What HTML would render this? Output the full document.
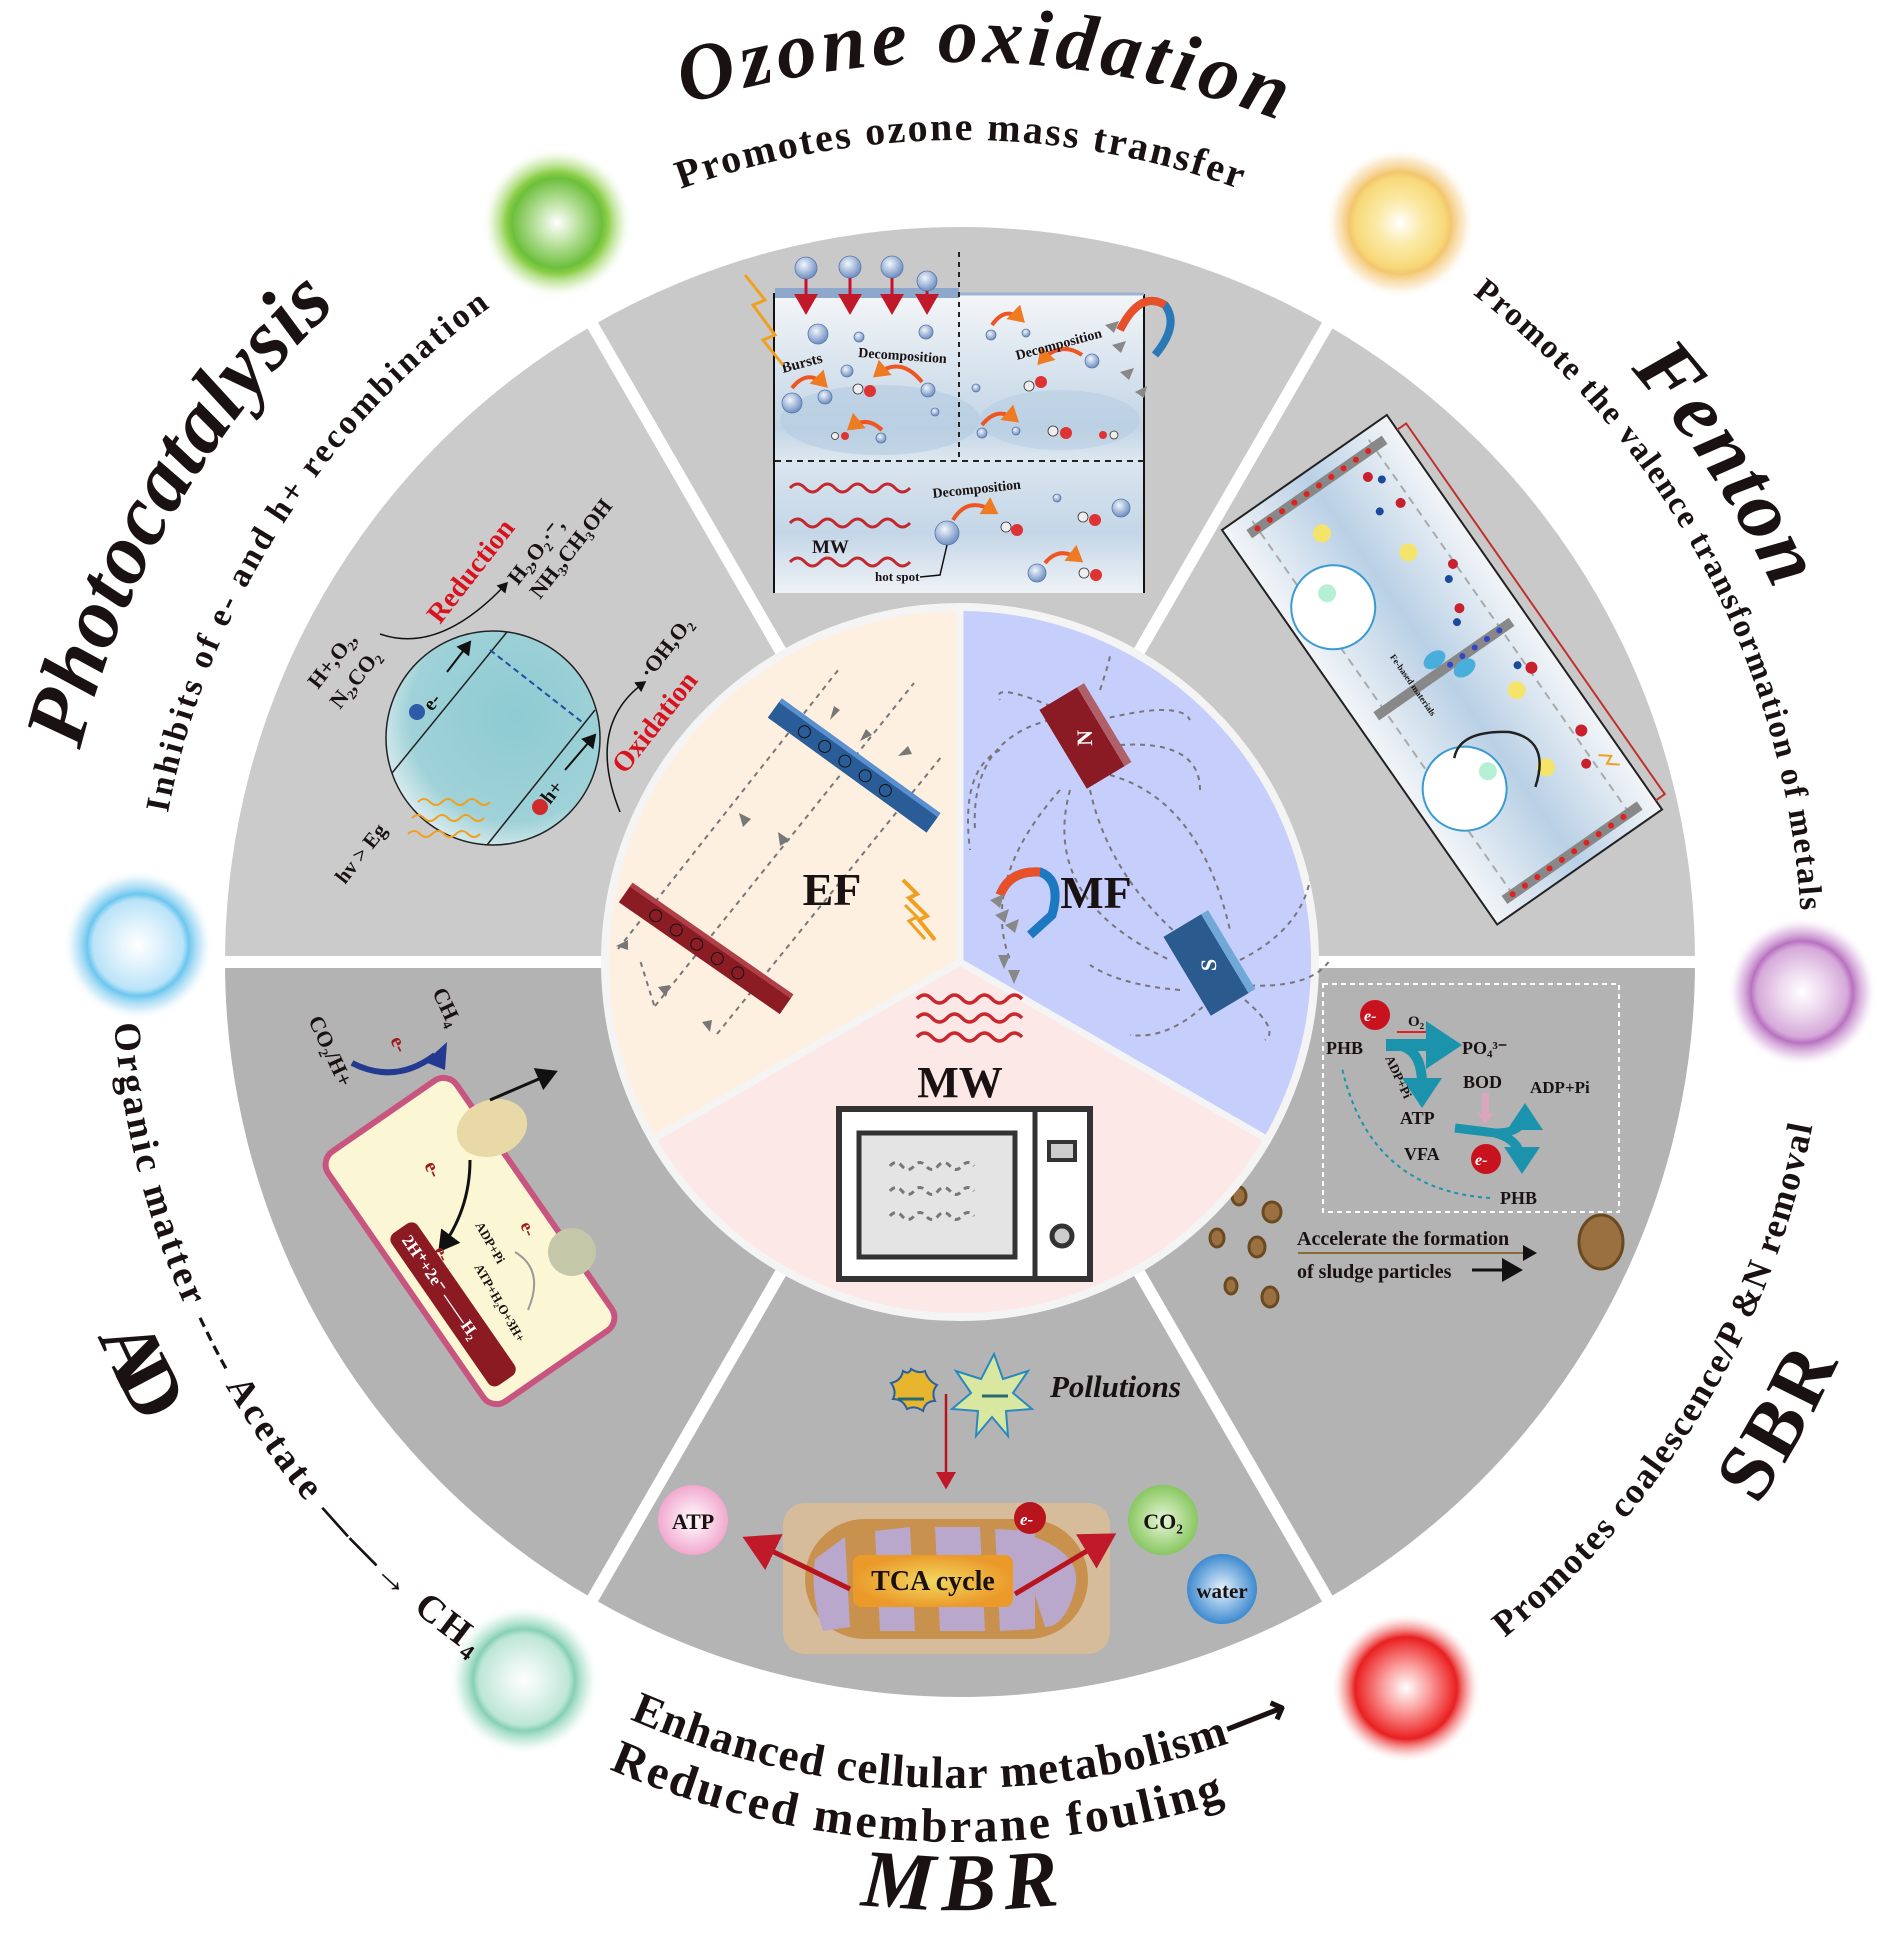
<!DOCTYPE html>
<html><head><meta charset="utf-8"><style>
html,body{margin:0;padding:0;background:#fff}
svg{display:block}
text{font-family:"Liberation Serif",serif;font-weight:bold;fill:#1a1212}
.s{font-family:"Liberation Serif",serif}
</style></head><body>
<svg width="1889" height="1950" viewBox="0 0 1889 1950" xmlns="http://www.w3.org/2000/svg">
<defs>
<radialGradient id="bub" cx="40%" cy="35%" r="65%"><stop offset="0" stop-color="#f2f6fc"/><stop offset="1" stop-color="#6e8fc2"/></radialGradient>
<radialGradient id="gG"><stop offset="0" stop-color="#fff"/><stop offset="0.3" stop-color="#b7e09a"/><stop offset="0.6" stop-color="#6cbf3c"/><stop offset="0.68" stop-color="#8ccf4a"/><stop offset="0.85" stop-color="#c9e8a8" stop-opacity="0.6"/><stop offset="1" stop-color="#fff" stop-opacity="0"/></radialGradient>
<radialGradient id="gY"><stop offset="0" stop-color="#fff"/><stop offset="0.3" stop-color="#fbeaa8"/><stop offset="0.6" stop-color="#f7d979"/><stop offset="0.68" stop-color="#f3c66e"/><stop offset="0.85" stop-color="#f7dcaa" stop-opacity="0.6"/><stop offset="1" stop-color="#fff" stop-opacity="0"/></radialGradient>
<radialGradient id="gB"><stop offset="0" stop-color="#fff"/><stop offset="0.3" stop-color="#dff2fc"/><stop offset="0.6" stop-color="#b9e3f8"/><stop offset="0.68" stop-color="#6cc6ef"/><stop offset="0.85" stop-color="#b4e0f6" stop-opacity="0.6"/><stop offset="1" stop-color="#fff" stop-opacity="0"/></radialGradient>
<radialGradient id="gP"><stop offset="0" stop-color="#fff"/><stop offset="0.3" stop-color="#eed8ef"/><stop offset="0.6" stop-color="#d5a9d9"/><stop offset="0.68" stop-color="#b872c0"/><stop offset="0.85" stop-color="#dcb6e0" stop-opacity="0.6"/><stop offset="1" stop-color="#fff" stop-opacity="0"/></radialGradient>
<radialGradient id="gT"><stop offset="0" stop-color="#fff"/><stop offset="0.3" stop-color="#e0f3ec"/><stop offset="0.6" stop-color="#bde6d7"/><stop offset="0.68" stop-color="#86d0b6"/><stop offset="0.85" stop-color="#c2e9da" stop-opacity="0.6"/><stop offset="1" stop-color="#fff" stop-opacity="0"/></radialGradient>
<radialGradient id="gR"><stop offset="0" stop-color="#fff"/><stop offset="0.3" stop-color="#fba0a0"/><stop offset="0.6" stop-color="#ef3a3a"/><stop offset="0.68" stop-color="#e82020"/><stop offset="0.85" stop-color="#f59a9a" stop-opacity="0.6"/><stop offset="1" stop-color="#fff" stop-opacity="0"/></radialGradient>
<linearGradient id="ozbg" x1="0" y1="0" x2="0" y2="1"><stop offset="0" stop-color="#f4f6f8"/><stop offset="0.45" stop-color="#c3d5e6"/><stop offset="0.55" stop-color="#dbe6ef"/><stop offset="0.8" stop-color="#c4d6e7"/><stop offset="1" stop-color="#eef2f6"/></linearGradient>
<linearGradient id="febg" x1="0" y1="0" x2="1" y2="0"><stop offset="0" stop-color="#f2f5f8"/><stop offset="0.5" stop-color="#b9d0e5"/><stop offset="1" stop-color="#f2f5f8"/></linearGradient>
<radialGradient id="pcg" cx="60%" cy="40%" r="70%"><stop offset="0" stop-color="#8ecbd2"/><stop offset="0.7" stop-color="#9fd2d8"/><stop offset="1" stop-color="#f0f4f6"/></radialGradient>
<radialGradient id="atp"><stop offset="0" stop-color="#fff"/><stop offset="1" stop-color="#f2a8cf"/></radialGradient>
<radialGradient id="co2"><stop offset="0" stop-color="#e8f6d8"/><stop offset="1" stop-color="#88c760"/></radialGradient>
<radialGradient id="wat"><stop offset="0" stop-color="#e6f2fb"/><stop offset="1" stop-color="#3e8ad0"/></radialGradient>
<radialGradient id="tca"><stop offset="0" stop-color="#f2d860"/><stop offset="1" stop-color="#eb9a2a"/></radialGradient>
<marker id="ar" markerWidth="8" markerHeight="8" refX="6" refY="4" orient="auto" markerUnits="strokeWidth"><path d="M0,0 L7,4 L0,8 Z" fill="#c01a2a"/></marker>
<marker id="ak" markerWidth="8" markerHeight="8" refX="6" refY="4" orient="auto" markerUnits="strokeWidth"><path d="M0,0 L7,4 L0,8 Z" fill="#111"/></marker>
<marker id="ao" markerWidth="5" markerHeight="5" refX="3" refY="2.5" orient="auto" markerUnits="strokeWidth"><path d="M0,0 L4,2.5 L0,5 Z" fill="#ee7a22"/></marker>
<marker id="at" markerWidth="4" markerHeight="4" refX="2" refY="2" orient="auto" markerUnits="strokeWidth"><path d="M0,0 L3,2 L0,4 Z" fill="#1c93ad"/></marker>
<path id="t900" d="M960,1862 A900,900 0 0 1 960,62 A900,900 0 0 1 960,1862"/>
<path id="t822" d="M960,1784 A822,822 0 0 1 960,140 A822,822 0 0 1 960,1784"/>
<path id="t905" d="M960,1867 A905,905 0 0 1 960,57 A905,905 0 0 1 960,1867"/>
<path id="t806" d="M960,1768 A806,806 0 0 1 960,156 A806,806 0 0 1 960,1768"/>
<path id="t895" d="M960,1857 A895,895 0 0 1 960,67 A895,895 0 0 1 960,1857"/>
<path id="t842" d="M960,1804 A842,842 0 0 1 960,120 A842,842 0 0 1 960,1804"/>
<path id="b948" d="M960,14 A948,948 0 0 0 960,1910 A948,948 0 0 0 960,14"/>
<path id="b880" d="M960,82 A880,880 0 0 0 960,1842 A880,880 0 0 0 960,82"/>
<path id="b826" d="M960,136 A826,826 0 0 0 960,1788 A826,826 0 0 0 960,136"/>
<path id="b940" d="M960,22 A940,940 0 0 0 960,1902 A940,940 0 0 0 960,22"/>
<path id="b848" d="M960,114 A848,848 0 0 0 960,1810 A848,848 0 0 0 960,114"/>
<path id="b965" d="M960,-3 A965,965 0 0 0 960,1927 A965,965 0 0 0 960,-3"/>
<path id="b868" d="M960,94 A868,868 0 0 0 960,1830 A868,868 0 0 0 960,94"/>
</defs>
<rect width="1889" height="1950" fill="#fff"/>

<path d="M960,962 L1327.5,325.5 A735,735 0 0 0 592.5,325.5 Z" fill="#c9c9c9"/>
<path d="M960,962 L1695,962 A735,735 0 0 0 1327.5,325.5 Z" fill="#c9c9c9"/>
<path d="M960,962 L592.5,325.5 A735,735 0 0 0 225,962 Z" fill="#cbcbcb"/>
<path d="M960,962 L225,962 A735,735 0 0 0 592.5,1598.5 Z" fill="#b3b3b3"/>
<path d="M960,962 L592.5,1598.5 A735,735 0 0 0 1327.5,1598.5 Z" fill="#b4b4b4"/>
<path d="M960,962 L1327.5,1598.5 A735,735 0 0 0 1695,962 Z" fill="#b3b3b3"/>
<g stroke="#fff" stroke-width="12">
<line x1="960" y1="962" x2="1335" y2="312"/><line x1="960" y1="962" x2="585" y2="312"/>
<line x1="960" y1="962" x2="1705" y2="962"/><line x1="960" y1="962" x2="215" y2="962"/>
<line x1="960" y1="962" x2="585" y2="1612"/><line x1="960" y1="962" x2="1335" y2="1612"/>
</g>

<circle cx="557" cy="223" r="75" fill="url(#gG)"/>
<circle cx="1400" cy="223" r="75" fill="url(#gY)"/>
<circle cx="138" cy="945" r="75" fill="url(#gB)"/>
<circle cx="1802" cy="992" r="75" fill="url(#gP)"/>
<circle cx="524" cy="1680" r="75" fill="url(#gT)"/>
<circle cx="1406" cy="1688" r="75" fill="url(#gR)"/>

<g transform="rotate(1.5 960 962)"><text font-size="80" font-style="italic"><textPath href="#t900" startOffset="50%" text-anchor="middle" textLength="605" lengthAdjust="spacing">Ozone oxidation</textPath></text></g>
<text font-size="40"><textPath href="#t822" startOffset="50%" text-anchor="middle" textLength="570">Promotes ozone mass transfer</textPath></text>
<g transform="rotate(-60 960 962)"><text font-size="86" font-style="italic"><textPath href="#t905" startOffset="50%" text-anchor="middle" textLength="520">Photocatalysis</textPath></text></g>
<g transform="rotate(-57.5 960 962)"><text font-size="34"><textPath href="#t806" startOffset="50%" text-anchor="middle" textLength="615">Inhibits of e- and h+ recombination</textPath></text></g>
<g transform="rotate(57 960 962)"><text font-size="84" font-style="italic"><textPath href="#t895" startOffset="50%" text-anchor="middle" textLength="265">Fenton</textPath></text></g>
<g transform="rotate(62 960 962)"><text font-size="33"><textPath href="#t842" startOffset="50%" text-anchor="middle" textLength="720">Promote the valence transformation of metals</textPath></text></g>
<text font-size="82" font-style="italic"><textPath href="#b948" startOffset="50%" text-anchor="middle" textLength="200">MBR</textPath></text>
<g transform="rotate(3 960 962)"><text font-size="48"><textPath href="#b880" startOffset="50%" text-anchor="middle" textLength="630">Reduced membrane fouling</textPath></text></g>
<text font-size="45"><textPath href="#b826" startOffset="50%" text-anchor="middle" textLength="680">Enhanced cellular metabolism⟶</textPath></text>
<g transform="rotate(63.5 960 962)"><text font-size="80"><textPath href="#b940" startOffset="50%" text-anchor="middle" textLength="100">AD</textPath></text></g>
<g transform="rotate(60.5 960 962)"><text font-size="38"><textPath href="#b848" startOffset="50%" text-anchor="middle" textLength="750">Organic matter ---- Acetate ——→ CH₄</textPath></text></g>
<g transform="rotate(-60.6 960 962)"><text font-size="80"><textPath href="#b965" startOffset="50%" text-anchor="middle" textLength="165">SBR</textPath></text></g>
<g transform="rotate(-59 960 962)"><text font-size="36"><textPath href="#b868" startOffset="50%" text-anchor="middle" textLength="610">Promotes coalescence/P &amp;N removal</textPath></text></g>

<!-- OZONE panel -->
<rect x="773" y="293" width="371" height="300" fill="url(#ozbg)"/>
<ellipse cx="880" cy="420" rx="100" ry="35" fill="#b4cbe1" opacity="0.6"/>
<ellipse cx="1060" cy="420" rx="80" ry="30" fill="#b4cbe1" opacity="0.5"/>
<line x1="774" y1="293" x2="774" y2="593" stroke="#111" stroke-width="2"/>
<line x1="1144" y1="294" x2="1144" y2="593" stroke="#111" stroke-width="2"/>
<rect x="775" y="288" width="184" height="10" fill="#8ea8cc"/>
<line x1="959" y1="294" x2="1144" y2="294" stroke="#9fb4d2" stroke-width="3"/>
<line x1="959" y1="252" x2="959" y2="461" stroke="#222" stroke-width="2" stroke-dasharray="5,5"/>
<line x1="775" y1="461" x2="1144" y2="461" stroke="#222" stroke-width="2" stroke-dasharray="6,5"/>
<g fill="url(#bub)" stroke="#5777a8" stroke-width="0.8">
<circle cx="806" cy="268" r="11"/><circle cx="850" cy="267" r="11"/><circle cx="892" cy="267" r="11"/><circle cx="927" cy="281" r="10"/>
<circle cx="818" cy="334" r="10"/><circle cx="859" cy="337" r="5"/><circle cx="926" cy="332" r="7"/><circle cx="847" cy="371" r="6"/>
<circle cx="792" cy="403" r="10"/><circle cx="825" cy="397" r="7"/><circle cx="928" cy="390" r="7"/><circle cx="935" cy="412" r="4"/>
<circle cx="881" cy="438" r="5"/><circle cx="991" cy="335" r="5"/><circle cx="1026" cy="333" r="4"/><circle cx="1092" cy="361" r="7"/>
<circle cx="976" cy="388" r="4"/><circle cx="982" cy="433" r="5"/><circle cx="1016" cy="431" r="4"/>
<circle cx="947" cy="533" r="12"/><circle cx="1057" cy="498" r="4"/><circle cx="1121" cy="508" r="9"/><circle cx="1037" cy="573" r="9"/>
</g>
<g stroke="#c8102e" stroke-width="3" marker-end="url(#ar)">
<line x1="806" y1="279" x2="806" y2="312"/><line x1="850" y1="278" x2="850" y2="312"/><line x1="892" y1="278" x2="892" y2="312"/><line x1="927" y1="291" x2="927" y2="312"/>
</g>
<g>
<circle cx="858" cy="389" r="5" fill="#eee" stroke="#333" stroke-width="0.8"/><circle cx="870" cy="391" r="6" fill="#d33"/>
<circle cx="835" cy="436" r="3.5" fill="#eee" stroke="#333" stroke-width="0.8"/><circle cx="845" cy="436" r="4" fill="#d33"/>
<circle cx="1029" cy="386" r="5" fill="#eee" stroke="#333" stroke-width="0.8"/><circle cx="1041" cy="382" r="6" fill="#d33"/>
<circle cx="1053" cy="431" r="5" fill="#eee" stroke="#333" stroke-width="0.8"/><circle cx="1066" cy="433" r="6" fill="#d33"/>
<circle cx="1103" cy="435" r="4" fill="#d33"/><circle cx="1114" cy="435" r="4" fill="#eee" stroke="#333" stroke-width="0.8"/>
<circle cx="1006" cy="527" r="5" fill="#eee" stroke="#333" stroke-width="0.8"/><circle cx="1017" cy="530" r="6" fill="#d33"/>
<circle cx="1083" cy="517" r="5" fill="#eee" stroke="#333" stroke-width="0.8"/><circle cx="1095" cy="520" r="6" fill="#d33"/>
<circle cx="1084" cy="573" r="5" fill="#eee" stroke="#333" stroke-width="0.8"/><circle cx="1096" cy="575" r="6" fill="#d33"/>
</g>
<g fill="none" stroke="#ee5522" stroke-width="4" marker-end="url(#ao)">
<path d="M792,388 Q808,368 825,385"/><path d="M922,382 Q900,355 876,375"/><path d="M882,430 Q866,415 850,428"/>
<path d="M992,325 Q1006,305 1022,320"/><path d="M1082,355 Q1060,340 1040,362"/><path d="M982,425 Q998,405 1016,420"/>
<path d="M953,520 Q968,495 995,512"/><path d="M1045,563 Q1060,545 1080,560"/>
</g>
<g fill="none" stroke="#c2282e" stroke-width="3">
<path d="M790,488 q7.5,-8 15,0 t15,0 t15,0 t15,0 t15,0 t15,0 t15,0 t15,0"/>
<path d="M790,523 q7.5,-8 15,0 t15,0 t15,0 t15,0 t15,0 t15,0 t15,0 t15,0"/>
<path d="M790,562 q7.5,-8 15,0 t15,0 t15,0 t15,0 t15,0 t15,0 t15,0 t15,0"/>
</g>
<path d="M947,545 L940,575 L920,577" fill="none" stroke="#111" stroke-width="1.5"/>
<text x="812" y="553" font-size="19">MW</text>
<text x="875" y="581" font-size="13">hot spot</text>
<text class="s" x="783" y="373" font-size="15" font-weight="normal" transform="rotate(-15 783 373)">Bursts</text>
<text class="s" x="858" y="357" font-size="14" font-weight="normal" transform="rotate(4 858 357)">Decomposition</text>
<text class="s" x="1017" y="360" font-size="14" font-weight="normal" transform="rotate(-15 1017 360)">Decomposition</text>
<text class="s" x="933" y="498" font-size="14" font-weight="normal" transform="rotate(-6 933 498)">Decomposition</text>
<path d="M1120,330 Q1140,290 1165,305 Q1180,325 1155,355" fill="none" stroke="#2a78b5" stroke-width="8"/>
<path d="M1120,330 Q1140,290 1165,305" fill="none" stroke="#e8502a" stroke-width="8"/>
<g fill="#888"><path d="M1105,325 l14,-4 -5,12z"/><path d="M1112,345 l14,-4 -5,12z"/><path d="M1120,372 l14,-4 -5,12z"/><path d="M1135,392 l12,-6 -3,12z"/></g>
<path d="M745,275 l20,25 -12,5 22,30 -12,5 20,25" fill="none" stroke="#f0a020" stroke-width="3"/>

<!-- FENTON panel -->
<g transform="translate(1222,530) rotate(-34.9)">
<rect x="0" y="0" width="201" height="481" fill="url(#febg)" stroke="#222" stroke-width="2"/>
<line x1="30" y1="10" x2="30" y2="470" stroke="#aaa" stroke-width="2" stroke-dasharray="8,6"/>
<line x1="172" y1="10" x2="172" y2="470" stroke="#aaa" stroke-width="2" stroke-dasharray="8,6"/>
<rect x="20" y="14" width="165" height="10" fill="#888"/>
<rect x="20" y="236" width="165" height="10" fill="#888"/>
<rect x="20" y="460" width="165" height="10" fill="#888"/>
<g fill="#d22"><circle cx="30" cy="19" r="3"/><circle cx="45" cy="19" r="3"/><circle cx="60" cy="19" r="3"/><circle cx="75" cy="19" r="3"/><circle cx="90" cy="19" r="3"/><circle cx="105" cy="19" r="3"/><circle cx="120" cy="19" r="3"/><circle cx="135" cy="19" r="3"/><circle cx="150" cy="19" r="3"/><circle cx="165" cy="19" r="3"/>
<circle cx="30" cy="465" r="3"/><circle cx="45" cy="465" r="3"/><circle cx="60" cy="465" r="3"/><circle cx="75" cy="465" r="3"/><circle cx="90" cy="465" r="3"/><circle cx="105" cy="465" r="3"/><circle cx="120" cy="465" r="3"/><circle cx="135" cy="465" r="3"/><circle cx="150" cy="465" r="3"/><circle cx="165" cy="465" r="3"/></g>
<g fill="#3344cc"><circle cx="110" cy="241" r="3"/><circle cx="125" cy="241" r="3"/><circle cx="140" cy="241" r="3"/><circle cx="155" cy="241" r="3"/><circle cx="170" cy="241" r="3"/></g>
<path d="M201,18 L212,18 L212,470 L201,470" fill="none" stroke="#c03030" stroke-width="2"/>
<circle cx="47" cy="127" r="42" fill="#fff" stroke="#3a9bd0" stroke-width="2"/>
<circle cx="51" cy="351" r="42" fill="#fff" stroke="#3a9bd0" stroke-width="2"/>
<circle cx="50" cy="112" r="9" fill="#b6f0d4"/><circle cx="80" cy="350" r="9" fill="#b6f0d4"/>
<g fill="#f5e46a"><circle cx="80" cy="60" r="9"/><circle cx="140" cy="125" r="9"/><circle cx="150" cy="300" r="9"/><circle cx="130" cy="380" r="9"/></g>
<g fill="#c8202c"><circle cx="150" cy="40" r="5"/><circle cx="162" cy="80" r="5"/><circle cx="170" cy="160" r="5"/><circle cx="150" cy="200" r="5"/><circle cx="175" cy="290" r="6"/><circle cx="180" cy="370" r="6"/><circle cx="165" cy="400" r="5"/></g>
<g fill="#1c4a9a"><circle cx="160" cy="50" r="4"/><circle cx="140" cy="75" r="4"/><circle cx="158" cy="170" r="4"/><circle cx="140" cy="210" r="4"/><circle cx="165" cy="280" r="4"/></g>
<path d="M60,320 Q80,300 120,330 Q150,360 110,390" fill="none" stroke="#222" stroke-width="2.5"/>
<ellipse cx="100" cy="228" rx="12" ry="8" fill="#4aaedc"/><ellipse cx="120" cy="252" rx="12" ry="8" fill="#4aaedc"/>
<text x="65" y="200" font-size="9" transform="rotate(90 65 200)">Fe-based materials</text>
<path d="M180,400 l10,8 -8,4 10,8" fill="none" stroke="#f0a020" stroke-width="2"/>
</g>

<!-- PHOTOCATALYSIS -->
<circle cx="493" cy="738" r="107" fill="url(#pcg)" stroke="#222" stroke-width="1.5"/>
<line x1="392" y1="773" x2="507" y2="632" stroke="#222" stroke-width="1.5"/>
<line x1="487" y1="845" x2="595" y2="710" stroke="#222" stroke-width="1.5"/>
<line x1="490" y1="650" x2="582" y2="722" stroke="#1f4e9c" stroke-width="2" stroke-dasharray="6,4"/>
<line x1="447" y1="672" x2="470" y2="642" stroke="#111" stroke-width="2" marker-end="url(#ak)"/>
<line x1="565" y1="770" x2="595" y2="735" stroke="#111" stroke-width="2" marker-end="url(#ak)"/>
<circle cx="417" cy="712" r="8" fill="#2e5aa8"/>
<circle cx="540" cy="807" r="8" fill="#d02a2a"/>
<text x="432" y="712" font-size="20" transform="rotate(-52 432 712)">e-</text>
<text x="550" y="805" font-size="20" transform="rotate(-52 550 805)">h+</text>
<path d="M380,634 Q440,655 507,583" fill="none" stroke="#111" stroke-width="1.5" marker-end="url(#ak)"/>
<path d="M620,812 Q585,725 645,682" fill="none" stroke="#111" stroke-width="1.5" marker-end="url(#ak)"/>
<text x="440" y="625" font-size="28" style="fill:#d8121e" transform="rotate(-52 440 625)">Reduction</text>
<text x="518" y="586" font-size="22" transform="rotate(-52 518 586)">H₂,O₂·⁻,</text>
<text x="540" y="600" font-size="22" transform="rotate(-52 540 600)">NH₃,CH₃OH</text>
<text x="318" y="690" font-size="22" transform="rotate(-52 318 690)">H+,O₂,</text>
<text x="340" y="710" font-size="22" transform="rotate(-52 340 710)">N₂,CO₂</text>
<text x="650" y="680" font-size="22" transform="rotate(-52 650 680)">·OH,O₂</text>
<text x="625" y="775" font-size="28" style="fill:#d8121e" transform="rotate(-52 625 775)">Oxidation</text>
<text x="345" y="885" font-size="21" transform="rotate(-52 345 885)">hv &gt; Eg</text>
<g fill="none" stroke="#f0a020" stroke-width="2">
<path d="M418,802 q6,-6 12,0 t12,0 t12,0 t12,0 t12,0 t12,0"/>
<path d="M412,818 q6,-6 12,0 t12,0 t12,0 t12,0 t12,0 t12,0"/>
<path d="M408,834 q6,-6 12,0 t12,0 t12,0 t12,0 t12,0 t12,0"/>
</g>

<!-- AD cell -->
<g transform="translate(470,1241) rotate(-34.7)">
<rect x="-78" y="-152" width="156" height="304" rx="16" fill="#fbf6d4" stroke="#c85580" stroke-width="6"/>
<rect x="-66" y="-50" width="32" height="185" rx="8" fill="#8b1a22"/>
<text x="-56" y="-40" font-size="17" style="fill:#fff" transform="rotate(90 -56 -40)">2H⁺+2e⁻ ——H₂</text>
</g>
<ellipse cx="492" cy="1128" rx="36" ry="28" fill="#e8d9a6" transform="rotate(-20 492 1128)"/>
<circle cx="572" cy="1252" r="24" fill="#c4c7a8"/>
<path d="M490,1100 L555,1072" stroke="#111" stroke-width="3" marker-end="url(#ak)"/>
<path d="M470,1160 Q470,1210 440,1250" fill="none" stroke="#111" stroke-width="3" marker-end="url(#ak)"/>
<path d="M352,1063 Q395,1085 435,1055" fill="none" stroke="#223a90" stroke-width="6"/>
<path d="M425,1062 l22,-20 -2,28 z" fill="#223a90"/>
<text x="308" y="1020" font-size="22" transform="rotate(65 308 1020)">CO₂/H+</text>
<text x="432" y="992" font-size="22" transform="rotate(65 432 992)">CH₄</text>
<text x="390" y="1040" font-size="20" style="fill:#a01818" transform="rotate(65 390 1040)">e-</text>
<text x="424" y="1165" font-size="20" style="fill:#a01818" transform="rotate(65 424 1165)">e-</text>
<text x="434" y="1250" font-size="18" style="fill:#a01818" transform="rotate(65 434 1250)">e-</text>
<text x="475" y="1225" font-size="13" transform="rotate(60 475 1225)">ADP+Pi</text>
<text x="474" y="1267" font-size="13" transform="rotate(60 474 1267)">ATP+H₂O+3H+</text>
<text x="520" y="1225" font-size="18" style="fill:#a01818" transform="rotate(65 520 1225)">e-</text>
<path d="M515,1252 Q545,1270 528,1310" fill="none" stroke="#999" stroke-width="2"/>

<!-- SBR -->
<rect x="1323" y="984" width="296" height="228" fill="none" stroke="#fff" stroke-width="2" stroke-dasharray="5,4"/>
<circle cx="1375" cy="1015" r="15" fill="#c8121e"/><text x="1364" y="1021" font-size="16" font-style="italic" style="fill:#fff">e-</text>
<text x="1408" y="1026" font-size="15">O₂</text>
<line x1="1397" y1="1032" x2="1440" y2="1032" stroke="#d22" stroke-width="2"/>
<text x="1326" y="1054" font-size="18">PHB</text>
<text x="1462" y="1054" font-size="18">PO₄³⁻</text>
<path d="M1386,1045 L1450,1045" stroke="#1c93ad" stroke-width="12" marker-end="url(#at)"/>
<path d="M1393,1045 Q1422,1045 1422,1085 L1422,1098" fill="none" stroke="#1c93ad" stroke-width="10" marker-end="url(#at)"/>
<text x="1385" y="1058" font-size="13" transform="rotate(65 1385 1058)">ADP+Pi</text>
<text x="1463" y="1088" font-size="18">BOD</text>
<text x="1530" y="1093" font-size="17">ADP+Pi</text>
<text x="1400" y="1124" font-size="18">ATP</text>
<text x="1404" y="1160" font-size="18">VFA</text>
<rect x="1482" y="1093" width="7" height="22" fill="#d9a6bc"/>
<path d="M1477,1113 l17,0 -8.5,12z" fill="#d9a6bc"/>
<path d="M1455,1128 L1495,1133 Q1525,1133 1525,1112" fill="none" stroke="#1c93ad" stroke-width="9" marker-end="url(#at)"/>
<path d="M1495,1133 Q1522,1140 1522,1165" fill="none" stroke="#1c93ad" stroke-width="9" marker-end="url(#at)"/>
<circle cx="1486" cy="1159" r="15" fill="#c8121e"/><text x="1475" y="1165" font-size="16" font-style="italic" style="fill:#fff">e-</text>
<text x="1500" y="1204" font-size="18">PHB</text>
<path d="M1490,1198 Q1370,1190 1342,1068" fill="none" stroke="#1c93ad" stroke-width="2" stroke-dasharray="4,4"/>
<text x="1297" y="1245" font-size="20">Accelerate the formation</text>
<line x1="1298" y1="1253" x2="1535" y2="1253" stroke="#8a6a3a" stroke-width="2" marker-end="url(#ak)"/>
<text x="1297" y="1278" font-size="20">of sludge particles</text>
<line x1="1472" y1="1270" x2="1520" y2="1270" stroke="#111" stroke-width="3" marker-end="url(#ak)"/>
<g fill="#9a7040" stroke="#6a4a20" stroke-width="3">
<ellipse cx="1239" cy="1196" rx="7" ry="9"/><ellipse cx="1272" cy="1212" rx="9" ry="10"/><ellipse cx="1217" cy="1238" rx="7" ry="9"/><ellipse cx="1257" cy="1247" rx="8" ry="10"/><ellipse cx="1231" cy="1286" rx="6" ry="8"/><ellipse cx="1270" cy="1297" rx="8" ry="10"/>
<ellipse cx="1601" cy="1242" rx="22" ry="27"/></g>

<!-- MBR -->
<g transform="translate(0,9)">
<rect x="783" y="1494" width="327" height="151" rx="22" fill="#d6bc9a"/>
<rect x="805" y="1510" width="283" height="120" rx="60" fill="#c8914e"/>
<g fill="#b9a7cc">
<path d="M815,1550 L845,1528 L850,1618 L823,1622 Q810,1585 815,1550Z"/>
<path d="M875,1522 L910,1518 L915,1622 L880,1622Z"/>
<path d="M935,1518 L980,1518 L985,1622 L940,1622Z"/>
<path d="M995,1520 L1035,1522 L1035,1620 L1000,1622Z"/>
<path d="M1015,1522 Q1085,1540 1075,1580 Q1065,1618 1045,1618 Z"/>
</g>
<rect x="853" y="1546" width="160" height="52" rx="8" fill="url(#tca)"/>
<text x="933" y="1581" font-size="28" text-anchor="middle">TCA cycle</text>
<circle cx="1030" cy="1509" r="16" fill="#b8141e"/><text x="1020" y="1516" font-size="17" font-style="italic" style="fill:#fff">e-</text>
<circle cx="693" cy="1511" r="35" fill="url(#atp)"/><text x="693" y="1520" font-size="22" text-anchor="middle">ATP</text>
<circle cx="1163" cy="1511" r="35" fill="url(#co2)"/><text x="1163" y="1520" font-size="22" text-anchor="middle">CO₂</text>
<circle cx="1222" cy="1580" r="35" fill="url(#wat)"/><text x="1222" y="1589" font-size="21" text-anchor="middle">water</text>
<line x1="850" y1="1580" x2="747" y2="1530" stroke="#b8141e" stroke-width="5" marker-end="url(#ar)"/>
<line x1="1015" y1="1585" x2="1112" y2="1527" stroke="#b8141e" stroke-width="5" marker-end="url(#ar)"/>
<line x1="946" y1="1385" x2="946" y2="1478" stroke="#b8141e" stroke-width="2.5" marker-end="url(#ar)"/>
<path d="M911,1360 q8,5 14,2 q3,10 12,14 q-6,7 -2,16 q-10,0 -12,10 q-8,-6 -16,-2 q-4,-10 -14,-10 q4,-8 -2,-16 q10,-2 12,-12 q6,4 8,-2z" fill="#e8b52e" stroke="#2860a0" stroke-width="2"/>
<line x1="898" y1="1390" x2="924" y2="1390" stroke="#2a6a70" stroke-width="3"/>
<path d="M994,1345 l9,25 25,-8 -15,22 19,16 -26,2 2,25 -16,-19 -16,19 2,-25 -26,-2 19,-16 -15,-22 25,8z" fill="#d8e8a0" stroke="#2a88c0" stroke-width="2"/>
<line x1="982" y1="1387" x2="1008" y2="1387" stroke="#2a6a70" stroke-width="3"/>
<text x="1050" y="1388" font-size="31" font-style="italic">Pollutions</text>
</g>

<!-- INNER CIRCLE -->
<path d="M960,962 L960,607 A355,355 0 0 0 652.6,1139.5 Z" fill="#fdf0e0"/>
<path d="M960,962 L1267.4,1139.5 A355,355 0 0 0 960,607 Z" fill="#c6cefb"/>
<path d="M960,962 L652.6,1139.5 A355,355 0 0 0 1267.4,1139.5 Z" fill="#fde8e8"/>
<circle cx="960" cy="962" r="355" fill="none" stroke="#f4f4f4" stroke-width="8"/>
<g stroke="#f4f4f4" stroke-width="7"><line x1="960" y1="962" x2="960" y2="607"/><line x1="960" y1="962" x2="652.6" y2="1139.5"/><line x1="960" y1="962" x2="1267.4" y2="1139.5"/></g>

<g fill="none" stroke="#777" stroke-width="2" stroke-dasharray="5,5">
<line x1="618" y1="949" x2="839" y2="669"/><line x1="655" y1="1006" x2="914" y2="683"/><line x1="717" y1="1034" x2="942" y2="756"/><line x1="654" y1="1005" x2="640" y2="960"/>
</g>
<g fill="#777"><path d="M743,827 l-4,-14 12,6z"/><path d="M780,846 l-2,-14 12,8z"/><path d="M840,710 l-10,10 4,-14z"/><path d="M872,735 l-12,6 6,-12z"/><path d="M912,754 l-14,2 10,-10z"/><path d="M628,950 l-12,-4 12,-6z"/><path d="M670,985 l-4,12 -8,-10z"/><path d="M712,1020 l-2,12 -8,-10z"/></g>
<g transform="translate(853,767) rotate(35.9)"><rect x="-98" y="-10" width="196" height="20" fill="#2a5d98"/><rect x="-98" y="-14" width="196" height="5" fill="#5a8fd0"/>
<g fill="none" stroke="#111" stroke-width="1"><circle cx="-60" cy="0" r="6"/><circle cx="-35" cy="0" r="6"/><circle cx="-10" cy="0" r="6"/><circle cx="15" cy="0" r="6"/><circle cx="40" cy="0" r="6"/></g></g>
<g transform="translate(705,950) rotate(34.8)"><rect x="-98" y="-10" width="196" height="20" fill="#8b1c24"/><rect x="-98" y="-14" width="196" height="5" fill="#b04048"/>
<g fill="none" stroke="#111" stroke-width="1"><circle cx="-60" cy="0" r="6"/><circle cx="-35" cy="0" r="6"/><circle cx="-10" cy="0" r="6"/><circle cx="15" cy="0" r="6"/><circle cx="40" cy="0" r="6"/></g></g>
<text x="832" y="905" font-size="46" text-anchor="middle">EF</text>
<path d="M903,880 l14,14 -8,4 18,18 -8,4 16,20" fill="none" stroke="#f0a020" stroke-width="4"/>
<path d="M905,905 l12,12 -8,4 16,18" fill="none" stroke="#f0a020" stroke-width="3"/>

<g fill="none" stroke="#777" stroke-width="2" stroke-dasharray="5,5">
<path d="M1070,790 Q1040,900 1170,960"/><path d="M1090,790 Q1110,880 1190,945"/><path d="M1060,790 Q980,880 1010,960"/>
<path d="M1110,775 Q1200,800 1230,930"/><path d="M1050,720 Q970,740 975,830"/><path d="M1060,710 Q990,680 1000,700"/>
<path d="M1100,720 Q1180,700 1190,720"/><path d="M1120,745 Q1200,740 1200,790"/><path d="M1240,960 Q1300,930 1310,880"/>
<path d="M1240,985 Q1310,990 1330,960"/><path d="M1180,990 Q1120,985 1090,965"/><path d="M1210,1000 Q1170,1040 1130,1035"/>
<path d="M1245,1000 Q1280,1030 1265,1040"/><path d="M1100,690 Q1110,660 1110,655"/><path d="M1000,750 Q960,770 970,850"/>
</g>
<g transform="translate(1082,738) rotate(-31)"><rect x="-22" y="-46" width="44" height="92" fill="#8a1a24"/><rect x="22" y="-46" width="8" height="92" fill="#b06068"/><text x="0" y="10" font-size="22" text-anchor="middle" style="fill:#fff" transform="rotate(-60)">N</text></g>
<g transform="translate(1206,965) rotate(-31)"><rect x="-22" y="-46" width="44" height="92" fill="#2a5a8e"/><rect x="22" y="-46" width="8" height="92" fill="#70a8d8"/><text x="0" y="10" font-size="22" text-anchor="middle" style="fill:#fff" transform="rotate(-60)">S</text></g>
<path d="M1000,895 Q1010,870 1040,872 Q1062,880 1052,915 L1030,935" fill="none" stroke="#1c78c0" stroke-width="9"/>
<path d="M1000,895 Q1010,870 1040,872" fill="none" stroke="#e8502a" stroke-width="9"/>
<g fill="#888"><path d="M990,900 l14,-6 -4,14z"/><path d="M995,915 l14,-6 -4,14z"/><path d="M1005,925 l14,-6 -4,14z"/><path d="M1010,955 l-6,14 -6,-14z"/><path d="M1020,970 l-6,14 -6,-14z"/></g>
<text x="1096" y="908" font-size="46" text-anchor="middle">MF</text>

<g fill="none" stroke="#c8282e" stroke-width="3.5">
<path d="M917,999 q7.5,-8 15,0 t15,0 t15,0 t15,0 t15,0 t15,0 t15,0"/>
<path d="M917,1018 q7.5,-8 15,0 t15,0 t15,0 t15,0 t15,0 t15,0 t15,0"/>
<path d="M917,1037 q7.5,-8 15,0 t15,0 t15,0 t15,0 t15,0 t15,0 t15,0"/>
</g>
<text x="960" y="1097" font-size="44" text-anchor="middle">MW</text>
<rect x="839" y="1109" width="251" height="170" fill="#fff" stroke="#333" stroke-width="6"/>
<rect x="859" y="1133" width="156" height="124" fill="#e4e4e4" stroke="#333" stroke-width="5"/>
<line x1="1035" y1="1109" x2="1035" y2="1279" stroke="#333" stroke-width="5"/>
<rect x="1049" y="1142" width="26" height="18" fill="#ccc" stroke="#333" stroke-width="4"/>
<circle cx="1062" cy="1236" r="10" fill="#ccc" stroke="#333" stroke-width="5"/>
<g fill="none" stroke="#777" stroke-width="3" stroke-dasharray="6,5">
<path d="M890,1166 q6,-7 12,0 t12,0 t12,0 t12,0 t12,0 t12,0 t12,0"/>
<path d="M890,1191 q6,-7 12,0 t12,0 t12,0 t12,0 t12,0 t12,0 t12,0"/>
<path d="M890,1216 q6,-7 12,0 t12,0 t12,0 t12,0 t12,0 t12,0 t12,0"/>
</g>
</svg>
</body></html>
